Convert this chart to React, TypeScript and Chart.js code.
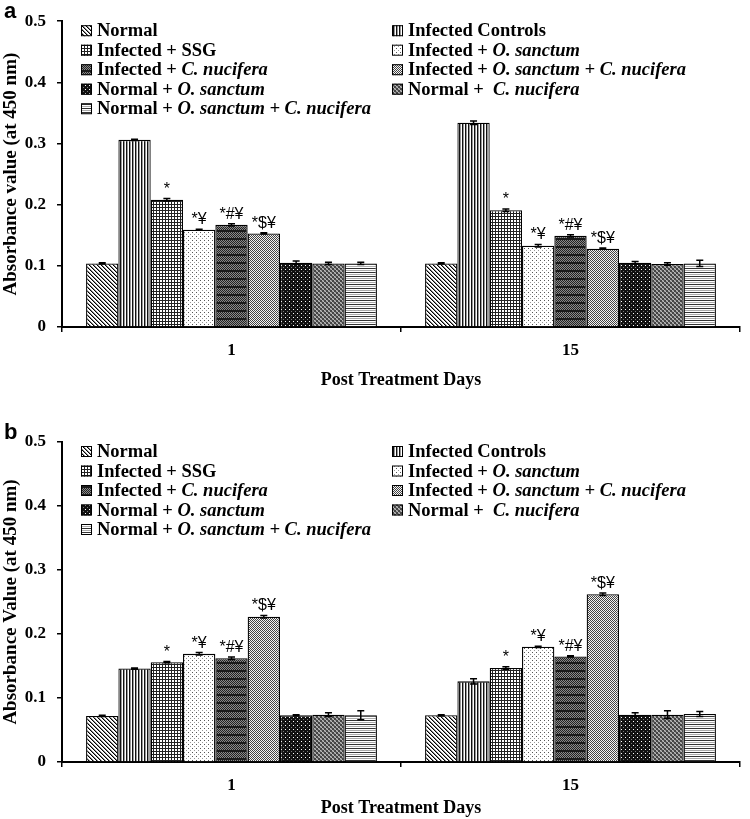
import React, { useEffect, useRef } from "react";
import { Chart, registerables } from "chart.js";
Chart.register(...registerables);

// ---------- DATA ----------
const categories = ["1", "15"];

const seriesNames = [
  "Normal",
  "Infected Controls",
  "Infected + SSG",
  "Infected + O. sanctum",
  "Infected + C. nucifera",
  "Infected + O. sanctum + C. nucifera",
  "Normal + O. sanctum",
  "Normal + C. nucifera",
  "Normal + O. sanctum + C. nucifera",
];

// legend text segments: [text, italic]
const legendSegments: [string, boolean][][] = [
  [["Normal", false]],
  [["Infected Controls", false]],
  [["Infected + SSG", false]],
  [["Infected + ", false], ["O. sanctum", true]],
  [["Infected + ", false], ["C. nucifera", true]],
  [["Infected + ", false], ["O. sanctum + C. nucifera", true]],
  [["Normal + ", false], ["O. sanctum", true]],
  [["Normal +  ", false], ["C. nucifera", true]],
  [["Normal + ", false], ["O. sanctum + C. nucifera", true]],
];

// Panel a values (per day, series order as above)
const aDay1 = [0.104, 0.306, 0.208, 0.159, 0.167, 0.153, 0.105, 0.104, 0.104];
const aDay15 = [0.104, 0.334, 0.191, 0.133, 0.149, 0.128, 0.105, 0.103, 0.104];
const aErr1 = [0.001, 0.001, 0.002, 0.001, 0.002, 0.001, 0.003, 0.002, 0.002];
const aErr15 = [0.001, 0.003, 0.002, 0.002, 0.002, 0.001, 0.002, 0.002, 0.005];

// Panel b values
const bDay1 = [0.072, 0.146, 0.156, 0.169, 0.162, 0.227, 0.073, 0.074, 0.073];
const bDay15 = [0.073, 0.126, 0.147, 0.180, 0.165, 0.262, 0.074, 0.074, 0.075];
const bErr1 = [0.001, 0.001, 0.001, 0.002, 0.002, 0.002, 0.001, 0.003, 0.007];
const bErr15 = [0.001, 0.004, 0.002, 0.001, 0.001, 0.002, 0.003, 0.006, 0.004];

// significance marks (same for both days/panels)
const sigMarks = ["", "", "*", "*\u00A5", "*#\u00A5", "*$\u00A5", "", "", ""];

const yTicks = [0, 0.1, 0.2, 0.3, 0.4, 0.5];

// ---------- PATTERNS ----------
function makePattern(ctx: CanvasRenderingContext2D, kind: number): CanvasPattern {
  const c = document.createElement("canvas");
  let w = 4, h = 4;
  if (kind === 1) { w = 3; h = 1; }
  if (kind === 2) { w = 3; h = 3; }
  if (kind === 4) { w = 4; h = 8; }
  if (kind === 5) { w = 2; h = 2; }
  if (kind === 8) { w = 1; h = 4; }
  c.width = w; c.height = h;
  const g = c.getContext("2d")!;
  g.fillStyle = "#fff";
  g.fillRect(0, 0, w, h);
  const px = (x: number, y: number, col: string) => { g.fillStyle = col; g.fillRect(x, y, 1, 1); };
  switch (kind) {
    case 0:
      for (let i = 0; i < 4; i++) { px(i, i, "#000"); px((i + 1) % 4, i, "#888"); }
      break;
    case 1:
      px(0, 0, "#111"); px(1, 0, "#999");
      break;
    case 2:
      for (let i = 0; i < 3; i++) { px(i, 0, "#222"); px(0, i, "#222"); }
      break;
    case 3:
      px(0, 0, "#555"); px(2, 2, "#999");
      break;
    case 4:
      for (let y = 0; y < 8; y++) for (let x = 0; x < 4; x++) {
        if (y >= 6) px(x, y, "#1a1a1a");
        else px(x, y, (x + y) % 2 === 0 ? "#222" : "#8a8a8a");
      }
      break;
    case 5:
      px(0, 0, "#444"); px(1, 1, "#444"); px(1, 0, "#f4f4f4"); px(0, 1, "#f4f4f4");
      break;
    case 6:
      g.fillStyle = "#111"; g.fillRect(0, 0, 4, 4);
      px(1, 1, "#fff"); px(3, 3, "#777");
      break;
    case 7:
      for (let y = 0; y < 4; y++) for (let x = 0; x < 4; x++) {
        const cell = (Math.floor(x / 2) + Math.floor(y / 2)) % 2;
        px(x, y, cell === 0 ? "#444" : (x + y) % 2 === 0 ? "#bbb" : "#888");
      }
      break;
    case 8:
      px(0, 0, "#333"); px(0, 2, "#aaa");
      break;
  }
  return ctx.createPattern(c, "repeat")!;
}

// ---------- PANEL ----------
type PanelCfg = {
  letter: string;
  height: number;
  areaTop: number;
  areaBottom: number;
  padBottom: number;
  yTitle: string;
  days: number[][];
  errs: number[][];
};

function Panel({ cfg }: { cfg: PanelCfg }) {
  const ref = useRef<HTMLCanvasElement>(null);
  useEffect(() => {
    const canvas = ref.current!;
    const ctx = canvas.getContext("2d")!;
    const patterns = seriesNames.map((_, i) => makePattern(ctx, i));
    const serif = "'Liberation Serif', 'Times New Roman', serif";

    const datasets = seriesNames.map((name, i) => ({
      label: name,
      data: cfg.days.map((d) => d[i]),
      backgroundColor: patterns[i],
      borderColor: "#000",
      borderWidth: 1.3,
      categoryPercentage: 0.858,
      barPercentage: 1,
    }));

    const overlay = {
      id: "overlay",
      afterDatasetsDraw(chart: any) {
        const c = chart.ctx as CanvasRenderingContext2D;
        const ys = chart.scales.y;
        c.save();
        // error bars + marks
        seriesNames.forEach((_, i) => {
          const meta = chart.getDatasetMeta(i);
          meta.data.forEach((bar: any, j: number) => {
            const v = cfg.days[j][i];
            const e = cfg.errs[j][i];
            const x = bar.x;
            const yTop = ys.getPixelForValue(v + e);
            const yBot = ys.getPixelForValue(v - e);
            c.strokeStyle = "#000";
            c.lineWidth = 1.5;
            c.beginPath();
            c.moveTo(x, yTop); c.lineTo(x, yBot);
            c.moveTo(x - 3.5, yTop); c.lineTo(x + 3.5, yTop);
            c.moveTo(x - 3.5, yBot); c.lineTo(x + 3.5, yBot);
            c.stroke();
            const mark = sigMarks[i];
            if (mark) {
              c.fillStyle = "#000";
              c.font = "16px 'Liberation Sans', Arial, sans-serif";
              c.textAlign = "center";
              c.textBaseline = "alphabetic";
              c.fillText(mark, x, yTop - 5);
            }
          });
        });
        // legend
        const area = chart.chartArea;
        seriesNames.forEach((_, i) => {
          const col = i % 2;
          const row = Math.floor(i / 2);
          const sx = col === 0 ? 81 : 392;
          const yc = area.top + 9.5 + row * 19.5;
          c.fillStyle = patterns[i] as any;
          c.fillRect(sx, yc - 5.5, 11, 11);
          c.strokeStyle = "#000";
          c.lineWidth = 1;
          c.strokeRect(sx + 0.5, yc - 5, 10, 10);
          let tx = sx + 16;
          c.fillStyle = "#000";
          c.textAlign = "left";
          c.textBaseline = "middle";
          legendSegments[i].forEach(([t, it]) => {
            c.font = (it ? "italic bold " : "bold ") + "18.5px " + serif;
            c.fillText(t, tx, yc + 1);
            tx += c.measureText(t).width;
          });
        });
        // panel letter
        c.fillStyle = "#000";
        c.font = "bold 22px 'Liberation Sans', Arial, sans-serif";
        c.textAlign = "left";
        c.textBaseline = "alphabetic";
        c.fillText(cfg.letter, 4, area.top - 3);
        c.restore();
      },
    };

    const H = cfg.height;
    const chart = new Chart(canvas, {
      type: "bar",
      data: { labels: categories, datasets },
      options: {
        responsive: false,
        animation: false,
        layout: { padding: { top: cfg.areaTop, right: 10, left: 0, bottom: cfg.padBottom } },
        plugins: { legend: { display: false }, tooltip: { enabled: false }, title: { display: false } },
        scales: {
          x: {
            grid: { drawOnChartArea: false, drawTicks: true, tickLength: 5, color: "#000", lineWidth: 1.5, offset: true },
            border: { display: true, color: "#000", width: 2 },
            ticks: { color: "#000", font: { family: serif, size: 17, weight: "bold" }, padding: 8 },
            title: {
              display: true,
              text: "Post Treatment Days",
              color: "#000",
              font: { family: serif, size: 18, weight: "bold" },
              padding: { top: 0, bottom: 0 },
            },
            afterFit: (s: any) => { s.height = H - cfg.padBottom - cfg.areaBottom; },
          },
          y: {
            min: 0,
            max: 0.5,
            afterBuildTicks: (s: any) => { s.ticks = yTicks.map((v) => ({ value: v })); },
            grid: { drawOnChartArea: false, drawTicks: true, tickLength: 5, color: "#000", lineWidth: 1.5 },
            border: { display: true, color: "#000", width: 2 },
            ticks: {
              color: "#000",
              font: { family: serif, size: 17, weight: "bold" },
              padding: 11,
              callback: (v: any) => (Number(v) === 0 ? "0" : Number(v).toFixed(1)),
            },
            title: {
              display: true,
              text: cfg.yTitle,
              color: "#000",
              font: { family: serif, size: 19, weight: "bold" },
              padding: { top: 0, bottom: 0 },
            },
            afterFit: (s: any) => { s.width = 62; },
          },
        },
      },
      plugins: [overlay],
    } as any);
    return () => chart.destroy();
  }, []);
  return (
    <div style={{ width: 750, height: cfg.height, position: "relative" }}>
      <canvas ref={ref} width={750} height={cfg.height} style={{ width: 750, height: cfg.height, display: "block" }} />
    </div>
  );
}

const panelA: PanelCfg = {
  letter: "a",
  height: 400,
  areaTop: 19,
  areaBottom: 327,
  padBottom: 9,
  yTitle: "Absorbance value (at 450 nm)",
  days: [aDay1, aDay15],
  errs: [aErr1, aErr15],
};

const panelB: PanelCfg = {
  letter: "b",
  height: 419,
  areaTop: 42,
  areaBottom: 362,
  padBottom: 0,
  yTitle: "Absorbance Value (at 450 nm)",
  days: [bDay1, bDay15],
  errs: [bErr1, bErr15],
};

export default function App() {
  return (
    <div style={{ position: "absolute", left: 0, top: 0, width: 750, height: 819, background: "#fff" }}>
      <Panel cfg={panelA} />
      <Panel cfg={panelB} />
    </div>
  );
}
